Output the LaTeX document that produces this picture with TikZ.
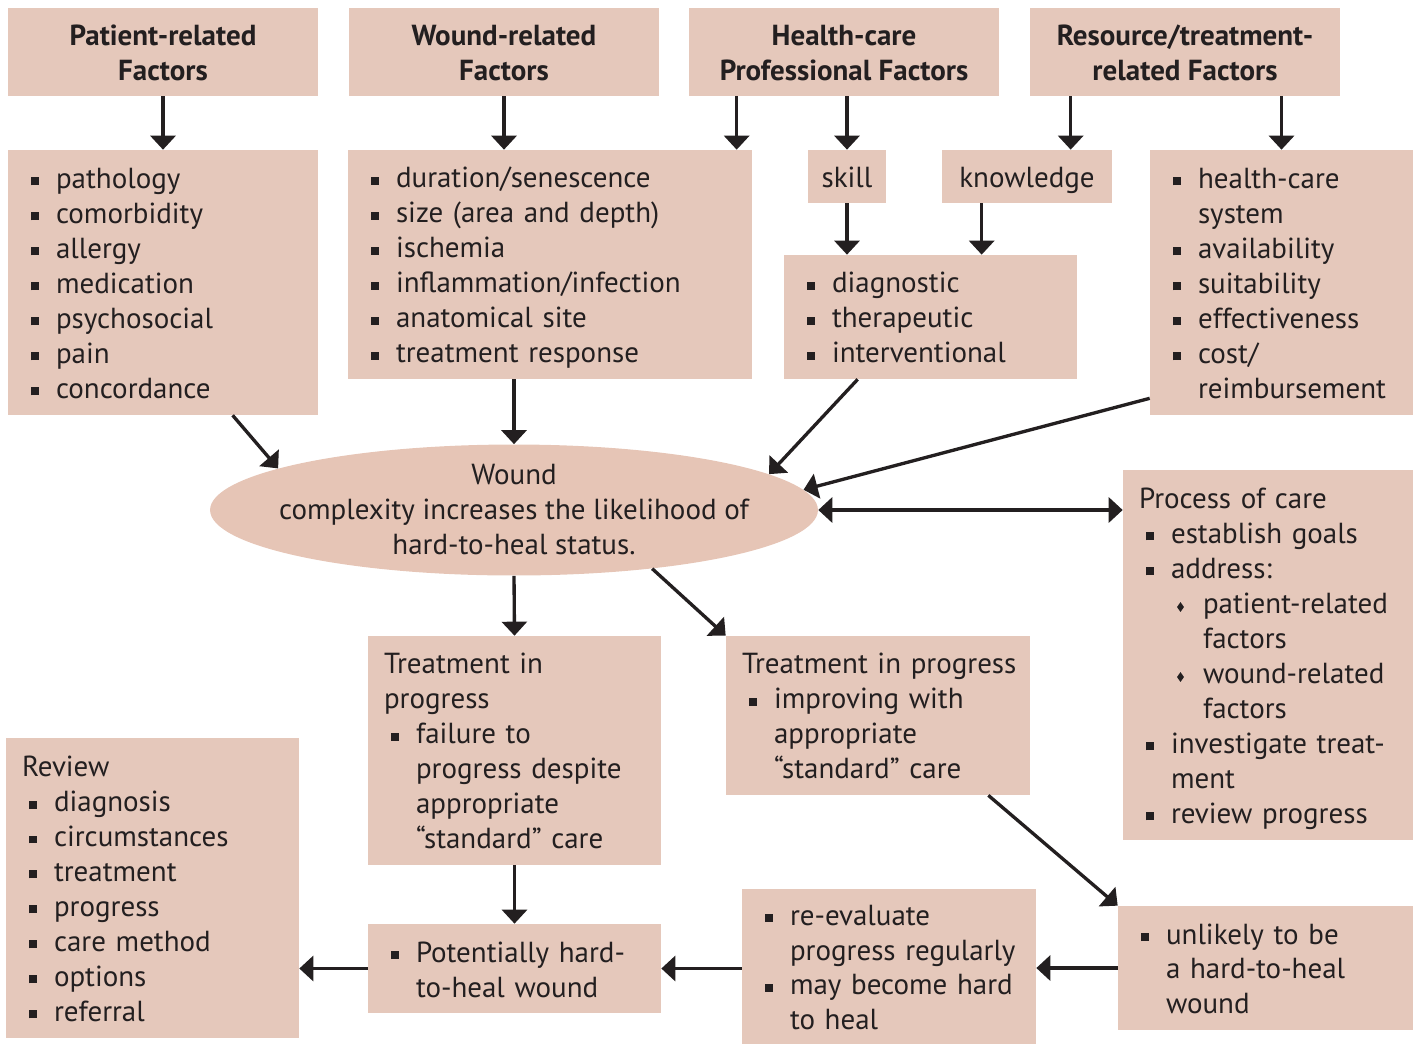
\documentclass[tikz,border=0pt]{standalone}
\usepackage{fontspec}
\setmainfont{PT Sans}
\usetikzlibrary{shapes.geometric, arrows.meta}

\definecolor{boxc}{RGB}{229,200,187}
\definecolor{ellc}{RGB}{230,197,182}
\definecolor{ink}{RGB}{35,31,32}

\newcommand{\bodyfont}{\fontsize{16.5}{19.92}\selectfont}
% line strut, square bullet, diamond bullet, hanging indent
\newcommand{\ls}{\rule[-3.7pt]{0pt}{19.9pt}}
\newcommand{\sq}{\ls\makebox[0.64cm][l]{\hspace{0.13cm}\rule[0.06cm]{0.16cm}{0.16cm}}}
\newcommand{\dm}{\ls\hspace*{0.64cm}\makebox[0.64cm][l]{\hspace{0.12cm}\raisebox{0.03cm}{\scalebox{0.7}[1]{\rotatebox{45}{\rule{0.14cm}{0.14cm}}}}}}
\newcommand{\ind}{\ls\hspace*{0.64cm}}

\tikzstyle{head} = [rectangle, 
minimum width=6.2cm, 
minimum height=1.76cm, 
align=center, 
text=ink, 
font=\bodyfont\bfseries, 
fill=boxc]
\tikzstyle{box} = [rectangle, 
inner xsep=0.32cm, 
align=left, 
text=ink, 
font=\bodyfont, 
fill=boxc]
\tikzstyle{wound} = [ellipse, 
minimum width=12.16cm, 
minimum height=2.62cm, 
inner sep=-0.5cm, 
align=center, 
text=ink, 
font=\bodyfont, 
fill=ellc]
\tikzstyle{arrow} = [line width=1.9pt, draw=ink, -{Triangle[width=0.5cm,length=0.28cm]}]

\begin{document}
\begin{tikzpicture}[x=0.02cm, y=-0.02cm]
\useasboundingbox (0,0) rectangle (1415,1045);

% top row
\node (pat) [head] at (163,52) {\ls Patient-related\\Factors\ls};
\node (wnd) [head] at (504,52) {\ls Wound-related\\Factors\ls};
\node (hcp) [head] at (844,52) {\ls Health-care\\Professional Factors\ls};
\node (res) [head] at (1185,52) {\ls Resource/treatment-\\related Factors\ls};

% factor lists
\node (plist) [box, text width=5.56cm, minimum height=5.3cm] at (163,282.5) {\sq pathology\\\sq comorbidity\\\sq allergy\\\sq medication\\\sq psychosocial\\\sq pain\\\sq concordance};
\node (wlist) [box, text width=7.44cm, minimum height=4.58cm] at (550,264.5) {\sq duration/senescence\\\sq size (area and depth)\\\sq ischemia\\\sq inflammation/infection\\\sq anatomical site\\\sq treatment response};
\node (skill) [box, align=center, inner xsep=0pt, minimum width=1.56cm, minimum height=1.06cm] at (847,176.5) {\ls skill};
\node (know) [box, align=center, inner xsep=0pt, minimum width=3.4cm, minimum height=1.06cm] at (1027,176.5) {\ls knowledge};
\node (diag) [box, text width=5.22cm, minimum height=2.48cm] at (930.5,317) {\sq diagnostic\\\sq therapeutic\\\sq interventional};
\node (rlist) [box, text width=4.62cm, minimum height=5.3cm] at (1281.5,282.5) {\sq health-care\\\ind system\\\sq availability\\\sq suitability\\\sq effectiveness\\\sq cost/\\\ind reimbursement};

% centre
\node (wc) [wound] at (514,510) {Wound\\complexity increases the likelihood of\\hard-to-heal status.};
\node (proc) [box, text width=5.16cm, minimum height=7.4cm] at (1268,655) {\ls Process of care\\\sq establish goals\\\sq address:\\\dm patient-related\\\ind\ind factors\\\dm wound-related\\\ind\ind factors\\\sq investigate treat-\\\ind ment\\\sq review progress};

% outcomes
\node (tl) [box, text width=5.22cm, minimum height=4.58cm] at (514.5,750.5) {\ls Treatment in\\\ls progress\\\sq failure to\\\ind progress despite\\\ind appropriate\\\ind ``standard'' care};
\node (tr) [box, text width=5.44cm, minimum height=3.18cm] at (878,715.5) {\ls\mbox{Treatment in progress}\\\sq improving with\\\ind appropriate\\\ind ``standard'' care};
\node (ul) [box, text width=5.26cm, minimum height=2.48cm] at (1265.5,968) {\sq unlikely to be\\\ind a hard-to-heal\\\ind wound};
\node (re) [box, text width=5.24cm, minimum height=3.1cm] at (889,966.5) {\sq re-evaluate\\\ind progress regularly\\\sq may become hard\\\ind to heal};
\node (pot) [box, text width=5.22cm, minimum height=1.78cm] at (514.5,968.5) {\sq Potentially hard-\\\ind to-heal wound};
\node (rev) [box, text width=5.22cm, minimum height=6.0cm] at (152.5,888) {\ls Review\\\sq diagnosis\\\sq circumstances\\\sq treatment\\\sq progress\\\sq care method\\\sq options\\\sq referral};

% factors down
\draw [arrow] (pat) -- (plist);
\draw [arrow] (wnd) -- (wnd |- wlist.north);
\draw [arrow] ([xshift=0.96cm]hcp.south west) -- ([xshift=0.96cm]hcp.south west |- wlist.north);
\draw [arrow] (hcp.south -| skill.north) -- (skill);
\draw [arrow] ([xshift=0.82cm]res.south west) -- ([xshift=0.82cm]res.south west |- know.north);
\draw [arrow] (res.south -| rlist.north) -- (rlist);
\draw [arrow] (skill) -- (skill |- diag.north);
\draw [arrow] ([xshift=0.8cm]know.south west) -- ([xshift=0.8cm]know.south west |- diag.north);

% into wound complexity
\draw [arrow] ([xshift=4.5cm]plist.south west) -- (wc.170);
\draw [arrow] (wlist.south -| wc.north) -- (wc.north);
\draw [arrow] ([xshift=1.48cm]diag.south west) -- (wc.8);
\draw [arrow] ([yshift=0.34cm]rlist.south west) -- (wc.4);
\draw [arrow, {Triangle[width=0.5cm,length=0.28cm]}-{Triangle[width=0.5cm,length=0.28cm]}] (wc.east) -- (wc.east -| proc.west);

% out of wound complexity
\draw [arrow] (wc.south) -- (tl.north);
\draw [arrow] (wc.-23) -- (tr.north west);
\draw [arrow] ([xshift=-0.84cm]tr.south east) -- (ul.north west);
\draw [arrow] (tl) -- (pot);
\draw [arrow] (ul.west) -- (ul.west -| re.east);
\draw [arrow] (re.west |- pot.east) -- (pot.east);
\draw [arrow] (pot.west) -- (pot.west -| rev.east);

\end{tikzpicture}
\end{document}
